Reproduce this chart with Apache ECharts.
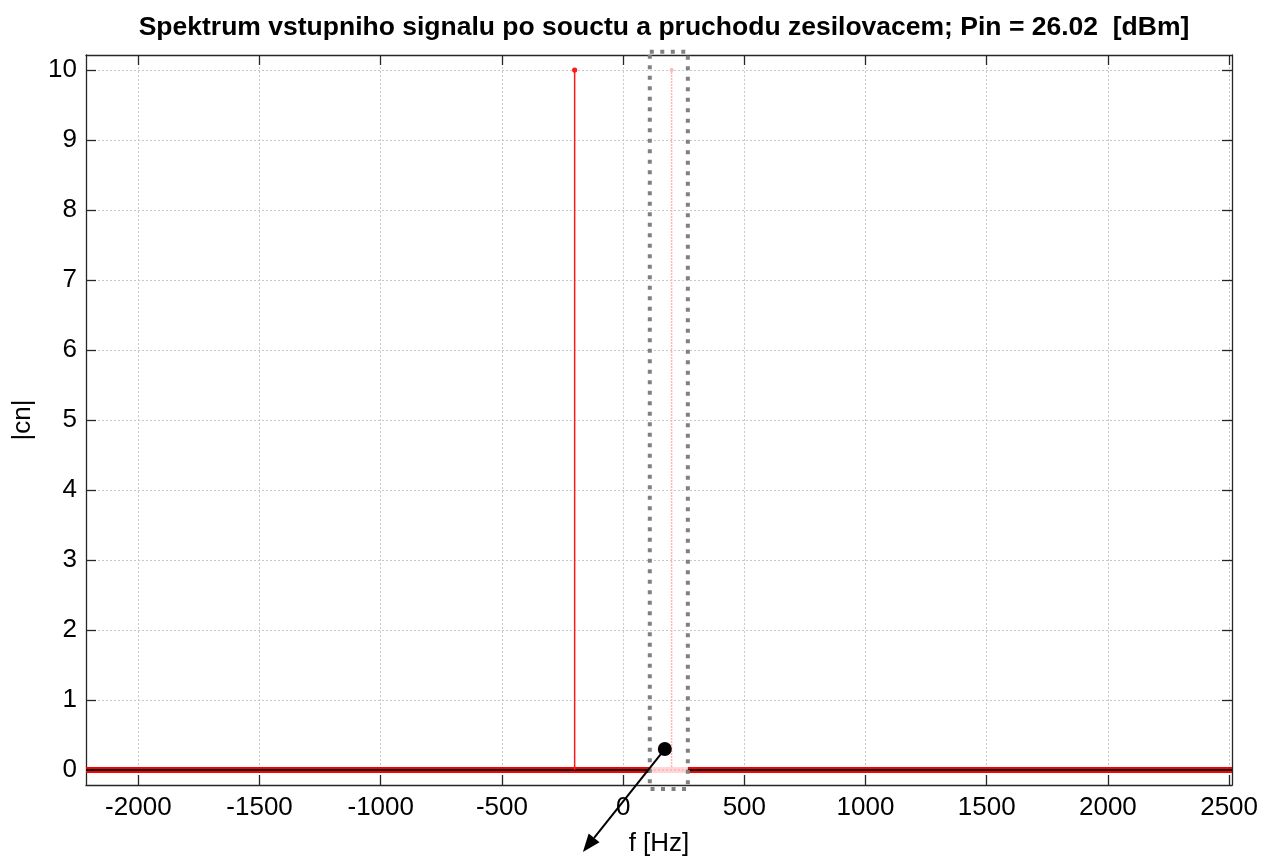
<!DOCTYPE html>
<html>
<head>
<meta charset="utf-8">
<script src="https://cdn.jsdelivr.net/npm/echarts@6/dist/echarts.min.js"></script>
<style>
  html, body { margin: 0; padding: 0; background: #fff; }
  #chart { width: 1274px; height: 857px; }
</style>
</head>
<body>
<div id="chart"></div>
<script>
// spectrum data
var stemFreq = [-200, 200];
var stemAmp = [10, 10];
var baseFreq = [-2216, 2512];
var baseAmp = [0, 0];

// tick labels
var xTicks = [-2000, -1500, -1000, -500, 0, 500, 1000, 1500, 2000, 2500];
var yTicks = [0, 1, 2, 3, 4, 5, 6, 7, 8, 9, 10];

// annotation (data coords)
var boxX = [110, 267];
var boxY = [-0.27, 10.26];
var pointer = [172, 0.3];
var arrowEnd = [-166, -1.17];

var font = '"Liberation Sans", Arial, Helvetica, sans-serif';
var xMin = -2216, xMax = 2512, yMin = -0.214, yMax = 10.214;

var myChart = echarts.init(document.getElementById('chart'));

function stemRender(params, api) {
    var p0 = api.coord([api.value(0), 0]);
    var p1 = api.coord([api.value(0), api.value(1)]);
    var faded = params.dataIndex === 1;
    var col = faded ? '#ffb3b3' : '#ff1a1a';
    return {
        type: 'group',
        children: [{
            type: 'line',
            shape: {x1: p0[0], y1: p0[1], x2: p1[0], y2: p1[1]},
            style: {stroke: col, lineWidth: 1.5, lineDash: faded ? [2, 1] : null}
        }, {
            type: 'circle',
            shape: {cx: p1[0], cy: p1[1], r: faded ? 2 : 2.6},
            style: {fill: col}
        }]
    };
}

function annotRender(params, api) {
    var a = api.coord([boxX[0], boxY[1]]);
    var b = api.coord([boxX[1], boxY[0]]);
    var s = api.coord(pointer);
    var e = api.coord(arrowEnd);
    var b0 = api.coord([boxX[0], 0]);
    var b1 = api.coord([boxX[1], 0]);
    var ang = Math.atan2(e[1] - s[1], e[0] - s[0]);
    var hl = 18, hw = 7;
    var bx = e[0] - hl * Math.cos(ang), by = e[1] - hl * Math.sin(ang);
    var nx = -Math.sin(ang), ny = Math.cos(ang);
    return {
        type: 'group',
        children: [{
            // washed baseline inside the brush box
            type: 'line',
            shape: {x1: b0[0], y1: b0[1], x2: b1[0], y2: b1[1]},
            style: {stroke: '#ffd6d6', lineWidth: 6}
        }, {
            type: 'line',
            shape: {x1: b0[0], y1: b0[1], x2: b1[0], y2: b1[1]},
            style: {stroke: '#ff9999', lineWidth: 1, lineDash: [2, 2]}
        }, {
            type: 'rect',
            shape: {x: a[0], y: a[1], width: b[0] - a[0], height: b[1] - a[1]},
            style: {fill: null, stroke: '#808080', lineWidth: 4, lineDash: [4, 6.5]}
        }, {
            type: 'line',
            shape: {x1: s[0], y1: s[1], x2: bx, y2: by},
            style: {stroke: '#000', lineWidth: 2}
        }, {
            type: 'polygon',
            shape: {points: [[e[0], e[1]], [bx + nx * hw, by + ny * hw], [bx - nx * hw, by - ny * hw]]},
            style: {fill: '#000'}
        }, {
            type: 'circle',
            shape: {cx: s[0], cy: s[1], r: 7},
            style: {fill: '#000'}
        }]
    };
}

var tickStyle = {show: true, inside: true, length: 10, lineStyle: {color: '#262626', width: 1.3}};
var gridLine = {show: true, lineStyle: {color: '#c8c8c8', type: [2, 2], width: 1}};
var plain = function (v) { return String(v); };

var option = {
    animation: false,
    backgroundColor: '#fff',
    title: {
        text: 'Spektrum vstupniho signalu po souctu a pruchodu zesilovacem; Pin = 26.02  [dBm]',
        left: 659, top: 9, textAlign: 'center',
        textStyle: {fontFamily: font, fontSize: 26.5, fontWeight: 'bold', color: '#000'}
    },
    grid: {left: 86, top: 55, right: 42, bottom: 72, containLabel: false, outerBoundsMode: 'none'},
    xAxis: [{
        type: 'value', min: xMin, max: xMax,
        name: 'f [Hz]', nameLocation: 'middle', nameGap: 46,
        nameTextStyle: {fontFamily: font, fontSize: 26, color: '#000'},
        axisLine: {show: true, onZero: false, lineStyle: {color: '#262626', width: 1.3}},
        axisTick: Object.assign({customValues: xTicks}, tickStyle),
        axisLabel: {customValues: xTicks, formatter: plain, fontFamily: font, fontSize: 26, color: '#000', margin: 10},
        splitLine: gridLine
    }, {
        type: 'value', min: xMin, max: xMax, position: 'top',
        axisLine: {show: true, onZero: false, lineStyle: {color: '#262626', width: 1.3}},
        axisTick: Object.assign({customValues: xTicks}, tickStyle),
        axisLabel: {show: false},
        splitLine: {show: false}
    }],
    yAxis: [{
        type: 'value', min: yMin, max: yMax,
        name: '|cn|', nameLocation: 'middle', nameGap: 50, nameRotate: 90,
        nameTextStyle: {fontFamily: font, fontSize: 26, color: '#000'},
        axisLine: {show: true, onZero: false, lineStyle: {color: '#262626', width: 1.3}},
        axisTick: Object.assign({customValues: yTicks}, tickStyle),
        axisLabel: {customValues: yTicks, formatter: plain, fontFamily: font, fontSize: 26, color: '#000', margin: 9},
        splitLine: gridLine
    }, {
        type: 'value', min: yMin, max: yMax, position: 'right',
        axisLine: {show: true, onZero: false, lineStyle: {color: '#262626', width: 1.3}},
        axisTick: Object.assign({customValues: yTicks}, tickStyle),
        axisLabel: {show: false},
        splitLine: {show: false}
    }],
    series: [{
        type: 'line', data: baseFreq.map(function (f, i) { return [f, baseAmp[i]]; }),
        showSymbol: false, lineStyle: {color: '#ff0000', width: 6}, z: 3, clip: false
    }, {
        type: 'line', data: baseFreq.map(function (f, i) { return [f, baseAmp[i]]; }),
        showSymbol: false, lineStyle: {color: '#000', width: 2}, z: 4, clip: false
    }, {
        type: 'custom', renderItem: stemRender, z: 5,
        data: stemFreq.map(function (f, i) { return [f, stemAmp[i]]; })
    }, {
        type: 'custom', renderItem: annotRender, z: 10, clip: false,
        data: [[pointer[0], pointer[1]]]
    }]
};

myChart.setOption(option);
</script>
</body>
</html>
